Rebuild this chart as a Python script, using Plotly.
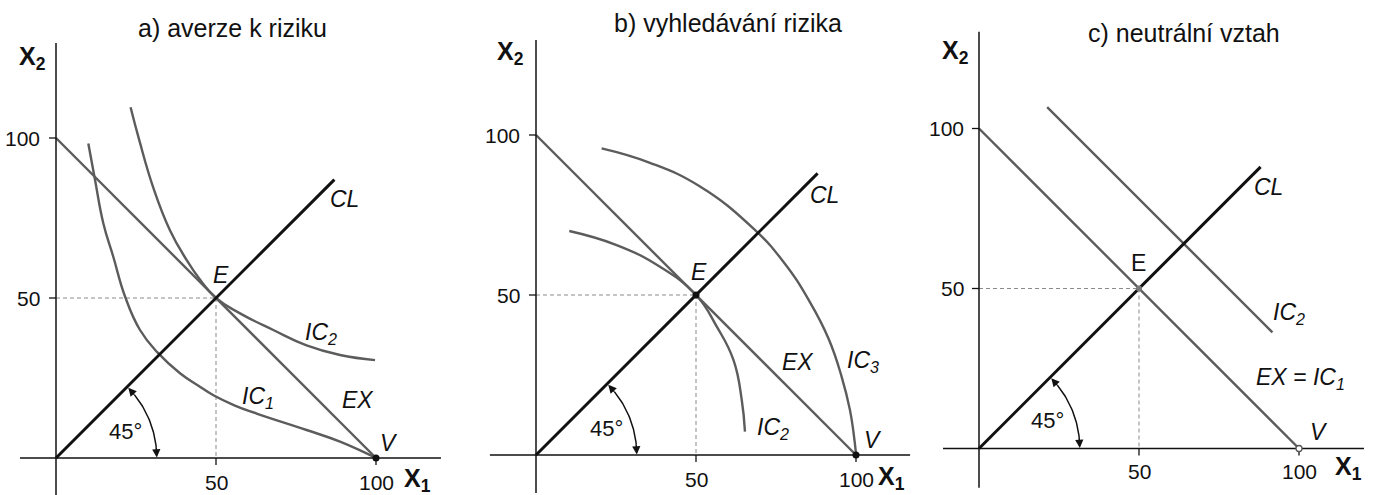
import numpy as np
import plotly.graph_objects as go

# ---------------- data ----------------
panel_titles = ["a) averze k riziku", "b) vyhledávání rizika", "c) neutrální vztah"]
tick_vals = [50, 100]
tick_text = ["50", "100"]
point_V = (100, 0)
point_E = (50, 50)
ex_x = [0, 100]
ex_y = [100, 0]
cl_end = [87, 88, 88]          # certainty line CL ends at (v, v)
angle_deg = 45

# a) risk aversion
a_ic1_x = [10.1, 12.2, 14.8, 17.9, 21.6, 26.25, 31.7, 38.75, 44.5, 49.2, 55.9, 62.7, 78.3, 88.75, 100]
a_ic1_y = [98.3, 86.9, 73.3, 62.9, 50.4, 40.0, 33.0, 26.5, 22.6, 19.6, 16.4, 13.9, 8.75, 5.1, 0]
a_ic2_x = [23.3, 26.0, 30.4, 35.6, 40.8, 44.8, 50.0, 57.5, 67.9, 78.3, 88.75, 99.7]
a_ic2_y = [109.6, 99.4, 84.5, 71.2, 61.9, 56.0, 50.0, 45.2, 40.0, 35.2, 32.2, 30.6]
# b) risk seeking
b_ic2_x = [10.4, 25.2, 38.75, 50.0, 56.5, 61.7, 64.3, 65.3]
b_ic2_y = [70.0, 65.6, 58.8, 50.0, 40.1, 29.7, 17.2, 7.3]
b_ic3_x = [20.5, 35.6, 51.25, 67.9, 77.3, 85.6, 91.5, 95.5, 98.1, 99.6, 100]
b_ic3_y = [95.8, 91.3, 83.9, 70.8, 60.4, 47.8, 36.2, 24.5, 14.1, 4.0, 0]
# c) neutral
c_ic2_x = [21.3, 91.7]
c_ic2_y = [106.7, 36.3]

# ---------------- layout geometry ----------------
W, H = 1374, 495
S = 3.2  # px per unit
panels = [
    dict(px0=0, px1=452, ox=56, oy=458, xax=(-11.25, 120.3), yax=(-11.6, 129.7), title=(232, 28)),
    dict(px0=455, px1=912, ox=536, oy=455, xax=(-14.4, 116.9), yax=(-11.9, 129.7), title=(728, 23)),
    dict(px0=915, px1=1374, ox=979, oy=448.5, xax=(-11.25, 120.3), yax=(-12.3, 130.2), title=(1184, 33)),
]

GRAY = "#5c5c5c"
FONT = "Liberation Sans, Arial, sans-serif"

fig = go.Figure()
annotations = []


def ax_names(i):
    s = "" if i == 0 else str(i + 1)
    return "x" + s, "y" + s


def line(i, x, y, color=GRAY, width=2.4, dash=None, shape="linear"):
    xa, ya = ax_names(i)
    fig.add_trace(go.Scatter(x=x, y=y, mode="lines", xaxis=xa, yaxis=ya,
                             line=dict(color=color, width=width, dash=dash, shape=shape, smoothing=1.3),
                             hoverinfo="skip", showlegend=False))


def label(i, x, y, text, size=23, italic=True, bold=False, xanchor="center"):
    xa, ya = ax_names(i)
    t = text
    if bold:
        t = "<b>" + t + "</b>"
    if italic:
        t = "<i>" + t + "</i>"
    annotations.append(dict(x=x, y=y, xref=xa, yref=ya, text=t, showarrow=False,
                            xanchor=xanchor, yanchor="middle",
                            font=dict(family=FONT, size=size, color="#111")))


def arrow(i, x, y, ax, ay):
    xa, ya = ax_names(i)
    annotations.append(dict(x=x, y=y, ax=ax, ay=ay, xref=xa, yref=ya, axref=xa, ayref=ya,
                            text="", showarrow=True, arrowhead=2, arrowsize=1.1,
                            arrowwidth=1.5, arrowcolor="#111", standoff=0))


for i, p in enumerate(panels):
    # dashed guides
    line(i, [0, point_E[0]], [point_E[1], point_E[1]], color="#8a8a8a", width=1, dash="4px,3px")
    line(i, [point_E[0], point_E[0]], [point_E[1], 0], color="#8a8a8a", width=1, dash="4px,3px")

# curves
line(0, a_ic1_x, a_ic1_y, shape="spline")
line(0, a_ic2_x, a_ic2_y, shape="spline")
line(1, b_ic2_x, b_ic2_y, shape="spline")
line(1, b_ic3_x, b_ic3_y, shape="spline")
line(2, c_ic2_x, c_ic2_y)

R = 31.5
for i, p in enumerate(panels):
    line(i, ex_x, ex_y)
    line(i, [0, cl_end[i]], [0, cl_end[i]], color="#111", width=3)
    # axes
    line(i, list(p["xax"]), [0, 0], color="#111", width=1.5)
    line(i, [0, 0], list(p["yax"]), color="#111", width=1.5)
    for v in tick_vals:
        line(i, [-2.2, 0], [v, v], color="#111", width=1.3)
        line(i, [v, v], [0, -2.2], color="#111", width=1.3)
    # angle arc
    th = np.radians(np.linspace(angle_deg - 6, 6, 40))
    line(i, R * np.cos(th), R * np.sin(th), color="#111", width=1.5)
    t_top0, t_top1 = np.radians(angle_deg - 7), np.radians(angle_deg - 0.8)
    arrow(i, R * np.cos(t_top1), R * np.sin(t_top1), R * np.cos(t_top0), R * np.sin(t_top0))
    t_b0, t_b1 = np.radians(7), np.radians(0.3)
    arrow(i, R * np.cos(t_b1), R * np.sin(t_b1), R * np.cos(t_b0), R * np.sin(t_b0))

# points
xa, ya = ax_names(0)
fig.add_trace(go.Scatter(x=[point_V[0]], y=[point_V[1]], mode="markers", xaxis=xa, yaxis=ya,
                         marker=dict(color="#111", size=7), showlegend=False, hoverinfo="skip"))
xa, ya = ax_names(1)
fig.add_trace(go.Scatter(x=[point_E[0], point_V[0]], y=[point_E[1], point_V[1]], mode="markers",
                         xaxis=xa, yaxis=ya, marker=dict(color="#111", size=7),
                         showlegend=False, hoverinfo="skip"))
xa, ya = ax_names(2)
fig.add_trace(go.Scatter(x=[point_E[0]], y=[point_E[1]], mode="markers", xaxis=xa, yaxis=ya,
                         marker=dict(color="#777", size=6), showlegend=False, hoverinfo="skip"))
fig.add_trace(go.Scatter(x=[point_V[0]], y=[point_V[1]], mode="markers", xaxis=xa, yaxis=ya,
                         marker=dict(color="white", size=6, line=dict(color="#555", width=1.3)),
                         showlegend=False, hoverinfo="skip"))

# labels
pos = [
    dict(CL=(90, 81), E=(51.5, 57.2), EX=(94.3, 18), V=(104, 4.7), deg=(21.6, 8.2),
         X2=(-7.2, 125), X1=(113, -6.9), ytick_x=-4.5, xtick_y=-7.6),
    dict(CL=(90.3, 81.2), E=(51, 57.3), EX=(82, 29.2), V=(105.4, 4.7), deg=(22.1, 8.3),
         X2=(-8.1, 125.5), X1=(111, -7.3), ytick_x=-4.5, xtick_y=-7.8),
    dict(CL=(90.6, 81.8), E=(49.7, 57.9), EX=(100.5, 21.9), V=(106.3, 5.3), deg=(21.3, 8.9),
         X2=(-7.3, 124), X1=(115.6, -6.2), ytick_x=-4.2, xtick_y=-7.2),
]
for i, q in enumerate(pos):
    label(i, *q["CL"], "CL")
    label(i, *q["V"], "V")
    label(i, *q["deg"], "45°", italic=False, size=22)
    label(i, *q["X2"], "X<sub>2</sub>", italic=False, bold=True, size=25)
    label(i, *q["X1"], "X<sub>1</sub>", italic=False, bold=True, size=25)
    for v, t in zip(tick_vals, tick_text):
        label(i, q["ytick_x"], v, t, italic=False, size=21, xanchor="right")
        label(i, v, q["xtick_y"], t, italic=False, size=21)
    if i < 2:
        label(i, *q["E"], "E")
        label(i, *q["EX"], "EX")
    else:
        label(i, *q["E"], "E", italic=False)
        label(i, *q["EX"], "EX = IC<sub>1</sub>")

label(0, 82.8, 39, "IC<sub>2</sub>")
label(0, 63, 19, "IC<sub>1</sub>")
label(1, 102.3, 29.2, "IC<sub>3</sub>")
label(1, 74.2, 8.3, "IC<sub>2</sub>")
label(2, 96.9, 42.2, "IC<sub>2</sub>")

for i, p in enumerate(panels):
    annotations.append(dict(x=p["title"][0] / W, y=1 - p["title"][1] / H, xref="paper", yref="paper",
                            text=panel_titles[i], showarrow=False, xanchor="center", yanchor="middle",
                            font=dict(family=FONT, size=25, color="#111")))

layout = dict(width=W, height=H, margin=dict(l=0, r=0, t=0, b=0),
              paper_bgcolor="white", plot_bgcolor="white", showlegend=False,
              annotations=annotations)
for i, p in enumerate(panels):
    s = "" if i == 0 else str(i + 1)
    layout["xaxis" + s] = dict(domain=[p["px0"] / W, p["px1"] / W],
                               range=[(p["px0"] - p["ox"]) / S, (p["px1"] - p["ox"]) / S],
                               visible=False, anchor="y" + s, fixedrange=True)
    layout["yaxis" + s] = dict(domain=[0, 1], range=[(p["oy"] - H) / S, p["oy"] / S],
                               visible=False, anchor="x" + s, fixedrange=True)
fig.update_layout(**layout)
fig.write_html("out.html", config={"displayModeBar": False},
               post_script="document.body.style.margin='0';document.body.style.overflow='hidden';")
